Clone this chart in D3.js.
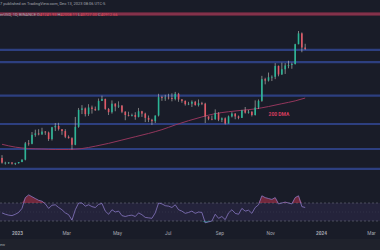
<!DOCTYPE html>
<html><head><meta charset="utf-8">
<script src="https://cdn.jsdelivr.net/npm/d3@7"></script>
<style>html,body{margin:0;padding:0;background:#191c28;overflow:hidden}svg{display:block}</style>
</head><body>
<svg id="c" width="380" height="250"></svg>
<script>
// ---- data (prices in $k, 4-day candles starting 2022-12-14) ----
const candleStart = "2022-12-14";
const open  = [17.8,16.8,16.8,16.85,16.6,16.7,16.95,17.45,20.9,20.8,22.7,23.0,22.8,23.4,23.2,21.8,24.3,24.6,23.9,23.5,22.3,22.0,20.6,24.4,28.0,28.3,27.1,28.5,28.2,27.9,29.9,30.3,28.2,27.5,29.3,28.7,28.9,27.6,26.9,26.8,26.9,26.5,27.7,27.2,26.3,25.9,25.6,26.8,30.7,30.5,30.6,30.5,30.3,31.4,30.2,29.9,29.2,29.3,29.7,29.0,29.4,29.3,26.6,26.1,26.0,27.3,25.9,26.2,25.1,26.6,27.2,26.6,26.3,27.9,27.4,27.6,26.9,28.5,29.9,34.5,34.2,34.9,35.0,37.3,35.5,36.6,37.4,37.5,37.7,41.9,44.2,41.2];
const high  = [18.4,17.0,16.95,16.9,16.8,16.9,17.5,21.2,21.6,23.3,23.8,23.9,24.2,23.5,23.4,24.4,25.2,25.25,23.9,23.9,22.6,22.2,26.5,28.4,29.0,28.5,29.2,28.9,28.7,30.4,31.0,30.4,28.4,30.0,29.4,29.8,29.0,27.7,27.6,27.2,27.5,28.4,27.8,27.4,26.8,26.1,26.8,31.4,31.0,31.2,31.4,31.5,31.8,31.6,30.3,30.0,29.7,30.0,29.9,30.2,29.7,29.5,26.6,26.8,28.1,27.5,26.4,26.4,26.8,27.5,27.3,26.8,28.0,28.6,28.0,27.7,30.0,30.2,35.2,34.8,35.9,35.3,37.9,37.4,38.0,37.9,38.4,38.0,42.0,44.7,44.4,42.0];
const low   = [16.6,16.4,16.55,16.4,16.3,16.6,16.9,17.3,20.4,20.7,22.3,22.6,22.7,22.7,21.4,21.5,23.5,23.6,22.7,22.0,21.9,19.6,20.5,24.2,27.1,26.6,26.7,27.2,27.8,27.9,29.9,28.0,26.9,27.2,27.7,28.4,27.3,25.8,26.6,26.6,25.9,26.4,26.5,25.4,25.4,24.8,25.2,26.6,29.9,29.9,30.2,29.8,30.0,29.7,29.5,28.9,29.0,28.6,28.9,28.7,29.0,25.2,25.8,25.8,25.9,25.6,25.4,24.9,25.1,26.4,26.0,26.0,26.3,27.2,27.2,26.6,26.8,28.2,29.7,33.4,34.0,34.1,34.5,35.1,35.4,35.6,36.8,36.7,37.6,41.9,40.2,40.7];
const close = [16.8,16.8,16.85,16.6,16.7,16.95,17.45,20.9,20.8,22.7,23.0,22.8,23.4,23.2,21.8,24.3,24.6,23.9,23.5,22.3,22.0,20.6,24.4,28.0,28.3,27.1,28.5,28.2,27.9,29.9,30.3,28.2,27.5,29.3,28.7,28.9,27.6,26.9,26.8,26.9,26.5,27.7,27.2,26.3,25.9,25.6,26.8,30.7,30.5,30.6,30.5,30.3,31.4,30.2,29.9,29.2,29.3,29.7,29.0,29.4,29.3,26.6,26.1,26.0,27.3,25.9,26.2,25.1,26.6,27.2,26.6,26.3,27.9,27.4,27.6,26.9,28.5,29.9,34.5,34.2,34.9,35.0,37.3,35.5,36.6,37.4,37.5,37.7,41.9,44.2,41.2,40.9];
// 200-day moving average, every 16 days from start, plus last day
const maDates = ["2022-12-14","2022-12-30","2023-01-15","2023-01-31","2023-02-16","2023-03-04","2023-03-20","2023-04-05","2023-04-21","2023-05-07","2023-05-23","2023-06-08","2023-06-24","2023-07-10","2023-07-26","2023-08-11","2023-08-27","2023-09-12","2023-09-28","2023-10-14","2023-10-30","2023-11-15","2023-12-01","2023-12-13"];
const ma200 = [20.7,20.1,19.8,19.7,19.6,19.6,19.8,20.3,20.9,21.6,22.3,23.0,23.8,24.8,25.7,26.5,27.2,27.6,27.9,28.2,28.7,29.3,29.9,30.5];
// RSI(14) per candle
const rsi = [48,45,43,42,45,49,58,82,88,84,80,76,74,68,58,65,66,60,55,48,44,32,55,70,70,63,66,62,60,67,69,52,45,55,50,52,42,40,42,43,40,48,44,38,37,36,48,70,68,64,63,60,66,55,52,47,49,52,47,50,49,26,28,30,45,36,40,33,48,55,47,45,58,52,54,47,60,66,86,82,80,78,82,68,70,72,70,68,82,86,62,60];
// horizontal levels ($k)
const supportLevels = [40.7,38.1,31.0,25.0,19.7,15.5];
const resistanceLevel = 48.3;
// time axis ticks
const tickDates = ["2023-01-01","2023-03-01","2023-05-01","2023-07-01","2023-09-01","2023-11-01","2024-01-01","2024-03-01"];
const tickLabels = ["2023","Mar","May","Jul","Sep","Nov","2024","Mar"];
const headerLine1 = "7 published on TradingView.com, Dec 13, 2023 08:06 UTC-5";
const headerSymbol = "erUSD, 1D, BINANCE ";
const headerOHLC = ["O41241.93","H42008.11","L40727.00","C40912.66"];
const maLabel = "200 DMA";
const maLabelAt = ["2023-10-30", 26.8];

// ---- drawing ----
const svg = d3.select("#c");
const W = 380, H = 250;
const parse = d3.utcParse("%Y-%m-%d");
const x = d3.scaleUtc().domain([parse("2023-01-01"), parse("2024-01-01")]).range([17, 321]);
const y = d3.scaleLinear().domain([0, 50]).range([242, 6]);
const yR = d3.scaleLinear().domain([0, 100]).range([234.5, 189.5]);

svg.append("rect").attr("width", W).attr("height", H).attr("fill", "#191c28");
svg.append("rect").attr("y", 239).attr("width", W).attr("height", 11).attr("fill", "#1f222c");

const start = parse(candleStart);
const data = close.map((c, i) => ({
  d: d3.utcDay.offset(start, 4 * i), o: open[i], h: high[i], l: low[i], c
}));

// resistance (red) line
svg.append("line").attr("x1", 0).attr("x2", W).attr("y1", y(resistanceLevel)).attr("y2", y(resistanceLevel))
  .attr("stroke", "#6e2a40").attr("stroke-width", 3.5);
svg.append("line").attr("x1", 0).attr("x2", W).attr("y1", y(resistanceLevel)).attr("y2", y(resistanceLevel))
  .attr("stroke", "#9a3a55").attr("stroke-width", 1);

// support lines
svg.selectAll("line.lvl").data(supportLevels).join("line").attr("class", "lvl")
  .attr("x1", 0).attr("x2", W).attr("y1", d => y(d)).attr("y2", d => y(d))
  .attr("stroke", "#2d3f80").attr("stroke-width", 2.2);

// 200 DMA
const maData = maDates.map((d, i) => ({ d: parse(d), v: ma200[i] }));
svg.append("path").datum(maData)
  .attr("d", d3.line().x(d => x(d.d)).y(d => y(d.v)).curve(d3.curveMonotoneX))
  .attr("fill", "none").attr("stroke", "#93365c").attr("stroke-width", 1);
svg.append("text").attr("x", x(parse(maLabelAt[0]))).attr("y", y(maLabelAt[1]))
  .attr("fill", "#d43d5e").attr("font-family", "Roboto, sans-serif").attr("font-size", 5).attr("font-weight", "bold")
  .text(maLabel);

// candles
const bw = 1.6;
const g = svg.append("g");
g.selectAll("line.wick").data(data).join("line").attr("class", "wick")
  .attr("x1", d => x(d.d)).attr("x2", d => x(d.d))
  .attr("y1", d => y(d.h)).attr("y2", d => y(d.l))
  .attr("stroke", "#d6d2cc").attr("stroke-width", 0.7).attr("opacity", 0.8);
g.selectAll("rect.body").data(data).join("rect").attr("class", "body")
  .attr("x", d => x(d.d) - bw / 2).attr("width", bw)
  .attr("y", d => y(Math.max(d.o, d.c)))
  .attr("height", d => Math.max(0.8, Math.abs(y(d.o) - y(d.c))))
  .attr("fill", d => d.c >= d.o ? "#2bb596" : "#e25866");

// RSI pane
svg.append("rect").attr("x", 0).attr("width", W).attr("y", yR(70)).attr("height", yR(30) - yR(70))
  .attr("fill", "#7e57c2").attr("opacity", 0.12);
[70, 30].forEach(v => svg.append("line").attr("x1", 0).attr("x2", W).attr("y1", yR(v)).attr("y2", yR(v))
  .attr("stroke", "#6b6e7c").attr("stroke-dasharray", "2,2").attr("stroke-width", 0.6));
svg.append("line").attr("x1", 0).attr("x2", W).attr("y1", yR(50)).attr("y2", yR(50))
  .attr("stroke", "#6b6e7c").attr("stroke-dasharray", "1,2").attr("stroke-width", 0.4).attr("opacity", 0.5);

const rsiData = data.map((d, i) => ({ d: d.d, v: rsi[i] }));
svg.append("path").datum(rsiData)
  .attr("d", d3.area().x(d => x(d.d)).y0(yR(70)).y1(d => yR(Math.max(70, d.v))))
  .attr("fill", "#c9344f").attr("opacity", 0.5);
svg.append("path").datum(rsiData)
  .attr("d", d3.area().x(d => x(d.d)).y0(yR(30)).y1(d => yR(Math.min(30, d.v))))
  .attr("fill", "#26a69a").attr("opacity", 0.5);
svg.append("path").datum(rsiData)
  .attr("d", d3.line().x(d => x(d.d)).y(d => yR(d.v)))
  .attr("fill", "none").attr("stroke", "#9582d4").attr("stroke-width", 0.7);

// time axis
const ax = svg.append("g").attr("transform", "translate(0,230)")
  .call(d3.axisBottom(x).tickValues(tickDates.map(parse)).tickFormat((d, i) => tickLabels[i]).tickSize(0));
ax.select(".domain").remove();
ax.selectAll("text").attr("fill", "#a3a6af").attr("font-family", "Roboto, sans-serif").attr("font-size", 4.8)
  .attr("font-weight", (d, i) => tickLabels[i].length === 4 ? "bold" : "normal").attr("dy", "0.5em");

// header
svg.append("text").attr("x", 0).attr("y", 5).attr("fill", "#a3a6af")
  .attr("font-family", "Roboto, sans-serif").attr("font-size", 4).text(headerLine1);
const t2 = svg.append("text").attr("x", 0).attr("y", 15.5).attr("font-family", "Roboto, sans-serif").attr("font-size", 4);
t2.append("tspan").attr("fill", "#a3a6af").text(headerSymbol);
headerOHLC.forEach(s => {
  t2.append("tspan").attr("fill", "#a3a6af").text(" " + s[0]);
  t2.append("tspan").attr("fill", "#e0505e").text(s.slice(1));
});
svg.append("text").attr("x", 0).attr("y", 246).attr("fill", "#a3a6af")
  .attr("font-family", "Roboto, sans-serif").attr("font-size", 4).text("ew");
</script>
</body></html>
